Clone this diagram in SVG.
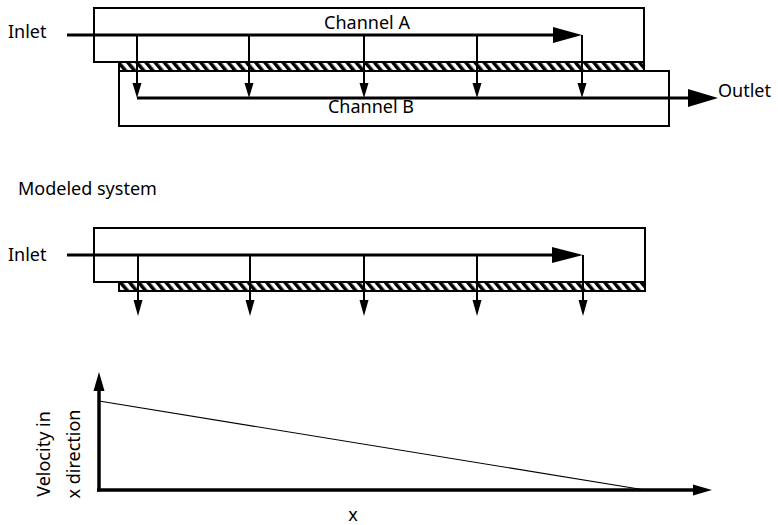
<svg xmlns="http://www.w3.org/2000/svg" width="778" height="525" viewBox="0 0 778 525">
<style>
text{font-family:"Noto Sans","Liberation Sans",sans-serif;font-size:18px;fill:#000}
.box{fill:none;stroke:#000;stroke-width:2}
.mem{fill:url(#hatch);stroke:#000;stroke-width:2}
.flow{fill:none;stroke:#000;stroke-width:3}
.perm{fill:none;stroke:#000;stroke-width:2}
.head{fill:#000;stroke:none}
.axis{fill:none;stroke:#000;stroke-width:3.5}
.thin{fill:none;stroke:#000;stroke-width:1.2}
</style>
<defs>
<pattern id="hatch" patternUnits="userSpaceOnUse" width="7" height="7" patternTransform="rotate(-40)">
<rect width="7" height="7" fill="#fff"/>
<rect width="3.5" height="7" fill="#000"/>
</pattern>
</defs>
<rect width="778" height="525" fill="#fff"/>

<!-- Top: real system -->
<g id="channelA">
<rect class="box" x="94" y="8" width="550" height="54"/>
<text x="367" y="29" text-anchor="middle">Channel A</text>
</g>
<g id="channelB">
<rect class="box" x="119" y="71" width="550" height="55"/>
<text x="371" y="112.5" text-anchor="middle">Channel B</text>
</g>
<g id="membraneTop">
<rect class="mem" x="119" y="62" width="525" height="9"/>
</g>
<g id="inletTop"><text x="8" y="37.5">Inlet</text></g>
<g id="outlet"><text x="718" y="97">Outlet</text></g>

<!-- Middle: modeled system -->
<g id="modeledLabel"><text x="18" y="195">Modeled system</text></g>
<g id="channelModel">
<rect class="box" x="94" y="228" width="551" height="54"/>
</g>
<g id="membraneModel">
<rect class="mem" x="119" y="282" width="526" height="9"/>
</g>
<g id="inletModel"><text x="8" y="260.5">Inlet</text></g>

<!-- Bottom: graph -->
<g id="graph">
<text transform="translate(49.5,454) rotate(-90)" text-anchor="middle">Velocity in</text>
<text transform="translate(80,454) rotate(-90)" text-anchor="middle">x direction</text>
<text x="353" y="521" text-anchor="middle">x</text>
</g>

<g id="connectors">
<!-- top -->
<path class="flow" d="M67 35H555"/>
<polygon class="head" points="553,27 582,35 553,43"/>
<path class="perm" d="M582 35V84M137 35V84M249 35V84M364 35V84M477 35V84"/>
<polygon class="head" points="132.5,83 141.5,83 137,98"/>
<polygon class="head" points="244.5,83 253.5,83 249,98"/>
<polygon class="head" points="359.5,83 368.5,83 364,98"/>
<polygon class="head" points="472.5,83 481.5,83 477,98"/>
<polygon class="head" points="577.5,83 586.5,83 582,98"/>
<path class="flow" d="M137 98H690"/>
<polygon class="head" points="688,89 718,98 688,107"/>
<!-- middle -->
<path class="flow" d="M67 255H554"/>
<polygon class="head" points="552,247 583,255 552,263"/>
<path class="perm" d="M583 255V302M138 255V302M250 255V302M364 255V302M477 255V302"/>
<polygon class="head" points="133.5,300 142.5,300 138,316"/>
<polygon class="head" points="245.5,300 254.5,300 250,316"/>
<polygon class="head" points="359.5,300 368.5,300 364,316"/>
<polygon class="head" points="472.5,300 481.5,300 477,316"/>
<polygon class="head" points="578.5,300 587.5,300 583,316"/>
<!-- graph axes -->
<path class="axis" d="M99 491.5V389"/>
<polygon class="head" points="93.5,391 99,372 104.5,391"/>
<path class="axis" d="M97 490H695"/>
<polygon class="head" points="693,484.5 712,490 693,495.5"/>
<path class="thin" d="M99 401L645 490"/>
</g>
</svg>
